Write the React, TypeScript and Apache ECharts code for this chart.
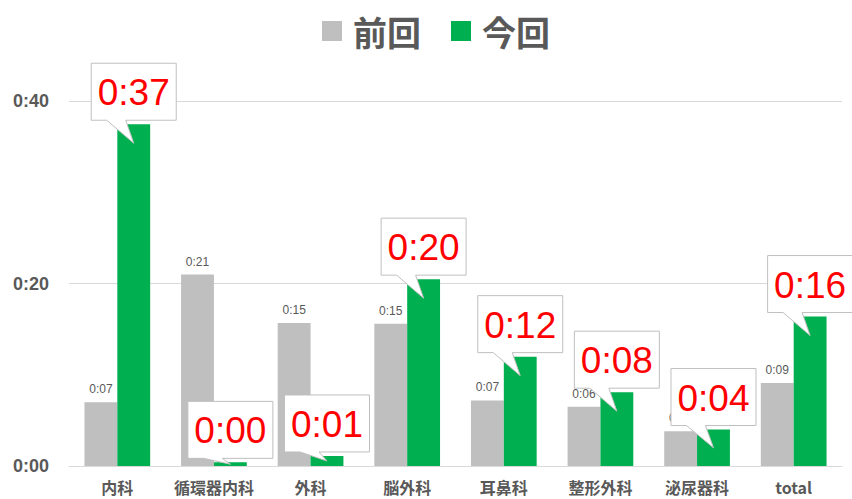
import React, { useEffect, useRef } from "react";
import * as echarts from "echarts";

const categories = ["内科", "循環器内科", "外科", "脳外科", "耳鼻科", "整形外科", "泌尿器科", "total"];
// minutes
const prevMinutes = [7.0, 21.0, 15.7, 15.6, 7.2, 6.5, 3.8, 9.1];
const currMinutes = [37.5, 0.4, 1.1, 20.5, 12.0, 8.1, 4.0, 16.4];
const seriesNames = ["前回", "今回"];
const yMax = 44;
const yInterval = 20;

const fmt = (m: number) => {
  const t = Math.floor(m + 1e-9);
  return `${Math.floor(t / 60)}:${String(t % 60).padStart(2, "0")}`;
};

const BAR_FRACTION = 0.68;

export default function App() {
  const ref = useRef<HTMLDivElement>(null);
  useEffect(() => {
    document.body.style.margin = "0";
    if (!ref.current) return;
    const chart = echarts.init(ref.current, null, { renderer: "svg" });
    chart.setOption({
      animation: false,
      backgroundColor: "#fff",
      legend: {
        data: seriesNames,
        left: 317,
        top: 9,
        itemWidth: 20,
        itemHeight: 20,
        itemGap: 30,
        icon: "rect",
        textStyle: {
          fontSize: 34,
          color: "#595959",
          fontWeight: "bold",
          fontFamily: "Noto Sans CJK JP",
          padding: [0, 0, 0, 6],
        },
      },
      grid: { left: 69, right: 10, top: 65, bottom: 33, containLabel: false },
      xAxis: {
        type: "category",
        data: categories,
        axisLine: { lineStyle: { color: "#D9D9D9", width: 1 } },
        axisTick: { show: false },
        axisLabel: {
          interval: 0,
          color: "#595959",
          fontSize: 16,
          fontWeight: "bold",
          fontFamily: "Noto Sans CJK JP",
          margin: 13,
        },
      },
      yAxis: {
        type: "value",
        min: 0,
        max: yMax,
        interval: yInterval,
        axisLine: { show: false },
        axisTick: { show: false },
        splitLine: { lineStyle: { color: "#D9D9D9" }, showMaxLine: false },
        axisLabel: {
          formatter: (v: number) => (v % yInterval === 0 ? fmt(v) : ""),
          color: "#595959",
          fontSize: 18,
          fontWeight: "bold",
          fontFamily: "Liberation Sans",
          margin: 20,
        },
      },
      series: [
        {
          name: seriesNames[0],
          type: "bar",
          data: prevMinutes,
          barGap: "0%",
          barCategoryGap: `${Math.round((1 - BAR_FRACTION) * 100)}%`,
          itemStyle: { color: "#BFBFBF" },
          label: {
            show: true,
            position: "top",
            distance: 7,
            formatter: (p: any) => fmt(p.value),
            color: "#595959",
            fontSize: 12,
            fontFamily: "Liberation Sans",
          },
        },
        {
          name: seriesNames[1],
          type: "bar",
          data: currMinutes,
          barGap: "0%",
          barCategoryGap: `${Math.round((1 - BAR_FRACTION) * 100)}%`,
          itemStyle: { color: "#00B050" },
        },
        {
          name: "callout",
          type: "custom",
          clip: false,
          z: 5,
          data: currMinutes.map((v, i) => [i, v]),
          encode: { x: 0, y: 1 },
          tooltip: { show: false },
          renderItem: (params: any, api: any) => {
            const i = api.value(0);
            const v = api.value(1);
            const top = api.coord([i, v]);
            const base = api.coord([i, 0]);
            const band = api.size([1, 0])[0];
            const cx = top[0] + (band * BAR_FRACTION) / 4;
            const barTop = top[1];
            const tipY = barTop + Math.min(19, (base[1] - barTop) / 2);
            const w = 85;
            const h = 57;
            const bottom = barTop - 4;
            const l = cx - w / 2;
            const r = cx + w / 2;
            const t = bottom - h;
            return {
              type: "group",
              children: [
                {
                  type: "polygon",
                  shape: {
                    points: [
                      [l, t],
                      [r, t],
                      [r, bottom],
                      [cx - 8, bottom],
                      [cx, tipY],
                      [cx - 27, bottom],
                      [l, bottom],
                    ],
                  },
                  style: { fill: "#FFFFFF", stroke: "#BFBFBF", lineWidth: 1 },
                },
                {
                  type: "text",
                  style: {
                    text: fmt(v),
                    x: cx,
                    y: t + h / 2 + 1,
                    align: "center",
                    verticalAlign: "middle",
                    fill: "#FF0000",
                    fontSize: 37,
                    fontFamily: "Liberation Sans",
                  },
                },
              ],
            };
          },
        },
      ],
    });
    return () => chart.dispose();
  }, []);
  return (
    <div
      ref={ref}
      style={{ width: 852, height: 499, position: "absolute", left: 0, top: 0 }}
    />
  );
}
